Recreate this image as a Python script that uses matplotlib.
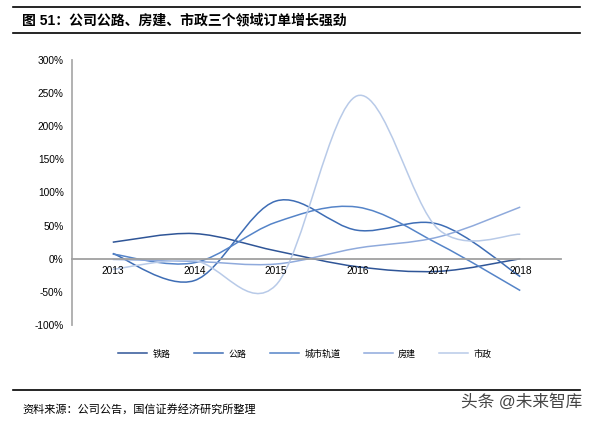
import matplotlib
matplotlib.use('Agg')
import matplotlib.pyplot as plt
from matplotlib.path import Path
from matplotlib.patches import PathPatch
from matplotlib.lines import Line2D
from matplotlib.ticker import FuncFormatter

plt.rcParams['font.family'] = ['Liberation Sans', 'Noto Sans CJK SC', 'DejaVu Sans']

# data (growth, %)
years = ['2013', '2014', '2015', '2016', '2017', '2018']
railway = [25, 38, 12, -12, -19, 0]
highway = [8, -33, 87, 43, 52, -27]
urban_rail = [7, -6, 55, 78, 22, -48]
building = [-1, -4, -8, 16, 33, 78]
municipal = [-16, -3, -40, 246, 44, 37]

series = [
    ('铁路', railway, '#2F5597'),
    ('公路', highway, '#3E6DB5'),
    ('城市轨道', urban_rail, '#5584C8'),
    ('房建', building, '#8FAADC'),
    ('市政', municipal, '#B8CAE8'),
]


def smooth_path(xs, ys):
    # Excel-style smoothed line: cubic bezier through the points
    n = len(xs)
    verts = [(xs[0], ys[0])]
    codes = [Path.MOVETO]
    for i in range(n - 1):
        x0, y0 = xs[max(i - 1, 0)], ys[max(i - 1, 0)]
        x1, y1 = xs[i], ys[i]
        x2, y2 = xs[i + 1], ys[i + 1]
        x3, y3 = xs[min(i + 2, n - 1)], ys[min(i + 2, n - 1)]
        c1 = (x1 + (x2 - x0) / 6, y1 + (y2 - y0) / 6)
        c2 = (x2 - (x3 - x1) / 6, y2 - (y3 - y1) / 6)
        verts += [c1, c2, (x2, y2)]
        codes += [Path.CURVE4] * 3
    return Path(verts, codes)


fig = plt.figure(figsize=(5.93, 4.22), dpi=100)
ax = fig.add_axes([72 / 593, 1 - 325 / 422, 489 / 593, 265 / 422])

xs = list(range(len(years)))
handles = []
for name, vals, color in series:
    p = PathPatch(smooth_path(xs, vals), facecolor='none', edgecolor=color, lw=1.1)
    ax.add_patch(p)
    handles.append(Line2D([], [], color=color, lw=1.1, label=name))

ax.set_xlim(-0.5, len(years) - 0.5)
ax.set_ylim(-100, 300)
ax.set_yticks(range(-100, 301, 50))
ax.yaxis.set_major_formatter(FuncFormatter(lambda v, pos: '%d%%' % v))
ax.set_xticks(xs)
ax.set_xticklabels(years)

for s in ['top', 'right']:
    ax.spines[s].set_visible(False)
ax.spines['bottom'].set_position(('data', 0))
ax.spines['bottom'].set_color('#A0A0A0')
ax.spines['bottom'].set_linewidth(1.3)
ax.spines['left'].set_color('#ABABAB')
ax.spines['left'].set_linewidth(1.3)
ax.spines['left'].set_zorder(0)
ax.tick_params(axis='both', length=0, labelsize=7.3, colors='black')
ax.tick_params(axis='y', pad=6)
ax.tick_params(axis='x', pad=5)

fig.legend(handles=handles, loc='center', bbox_to_anchor=(305 / 593, 1 - 354 / 422),
           ncol=5, frameon=False, fontsize=6.5, handlelength=3.2,
           handletextpad=0.6, columnspacing=2.6)

# title and separators
fig.text(22 / 593, 1 - 20 / 422, '图 51：公司公路、房建、市政三个领域订单增长强劲',
         fontsize=10, fontweight='bold', va='center', ha='left')
for yy in [7, 33, 390]:
    fig.add_artist(Line2D([13 / 593, 580 / 593], [1 - yy / 422, 1 - yy / 422],
                          transform=fig.transFigure, color='black', lw=1.2))

fig.text(22 / 593, 1 - 409 / 422, '资料来源：公司公告，国信证券经济研究所整理',
         fontsize=8, va='center', ha='left')
fig.text(582 / 593, 1 - 402 / 422, '头条 @未来智库', fontsize=12, color='#444444',
         va='center', ha='right')

fig.savefig('out.png', dpi=100)
